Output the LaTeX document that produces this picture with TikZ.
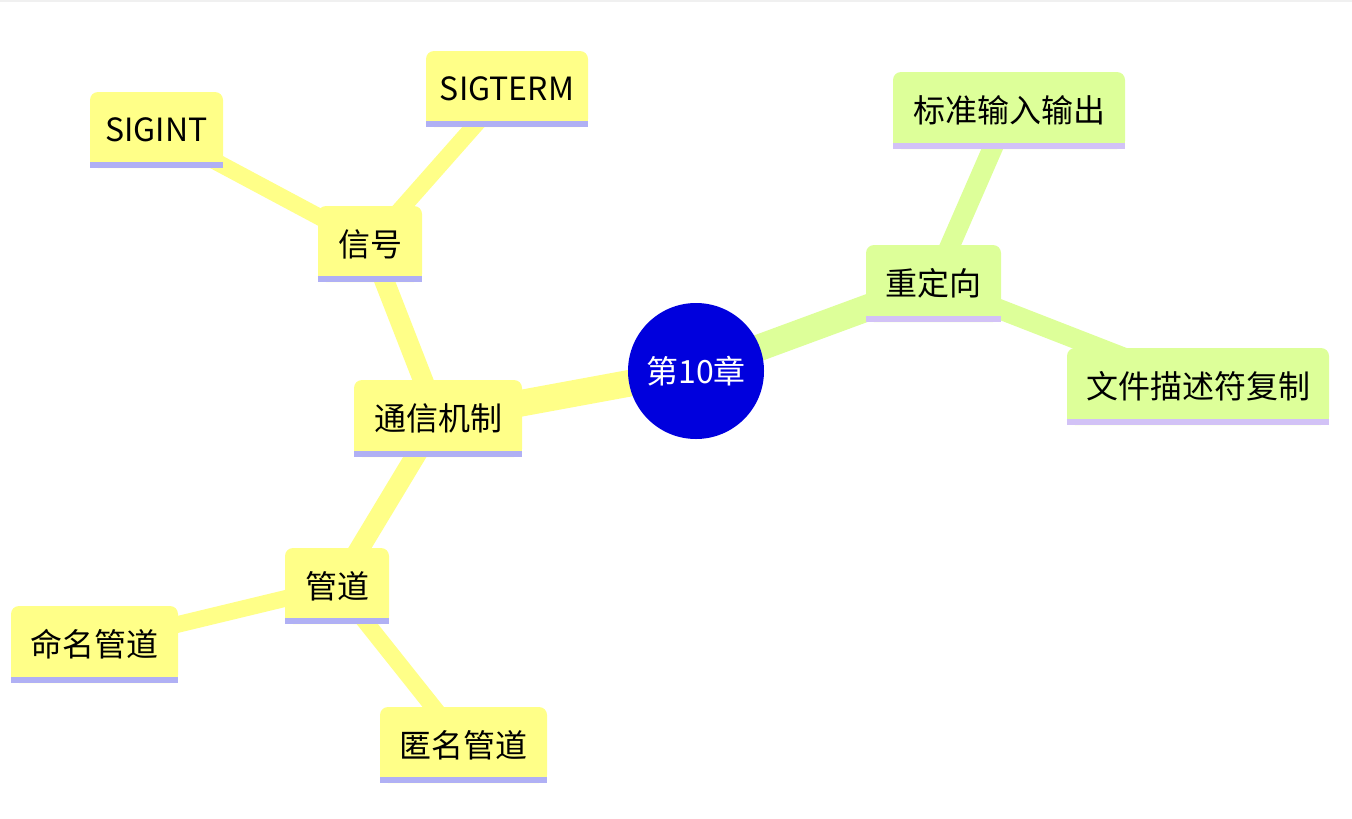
\documentclass[tikz,border=0pt]{standalone}
\usepackage{fontspec}
\setmainfont{Noto Sans CJK SC}
\pgfdeclarelayer{background}
\pgfsetlayers{background,main}
\definecolor{ylwfill}{HTML}{FFFF88}
\definecolor{ylwbar}{HTML}{B0B0F4}
\definecolor{grnfill}{HTML}{DDFF99}
\definecolor{grnbar}{HTML}{D2C2F6}
\definecolor{corefill}{HTML}{0000DD}
\definecolor{topline}{HTML}{F0F0F0}
\begin{document}
\begin{tikzpicture}[x=0.75pt,y=-0.75pt,
  topic/.style={fill=#1, rounded corners=6pt, inner sep=0pt, text=black,
    font=\fontsize{24}{28}\selectfont},
  dims/.style n args={2}{minimum width=0.75*#1pt, minimum height=0.75*#2pt},
  corenode/.style={circle, fill=corefill, text=white, minimum size=102pt, inner sep=0pt,
    font=\fontsize{24}{28}\selectfont},
  lvA/.style={line width=20pt},
  lvB/.style={line width=15pt},
  lvC/.style={line width=12.5pt}
]
\useasboundingbox (0,0) rectangle (1352,818);
\fill[topline] (0,0) rectangle (1352,2);

\node[corenode] (c) at (696,371) {第10章};

\node[topic=ylwfill, dims={168}{77}] (tx) at (438,418.5) {通信机制};
\node[topic=ylwfill, dims={104}{76}] (xh) at (370,244) {信号};
\node[topic=ylwfill, dims={133}{76}] (si) at (156.5,130) {SIGINT};
\node[topic=ylwfill, dims={162}{76}] (st) at (507,89) {SIGTERM};
\node[topic=ylwfill, dims={104}{76}] (gd) at (337,586) {管道};
\node[topic=ylwfill, dims={167}{77}] (mm) at (94.5,644.5) {命名管道};
\node[topic=ylwfill, dims={167}{76}] (nm) at (463.5,745) {匿名管道};

\node[topic=grnfill, dims={135}{77}] (cd) at (933.5,283.5) {重定向};
\node[topic=grnfill, dims={232}{77}] (bz) at (1009,110.5) {标准输入输出};
\node[topic=grnfill, dims={262}{77}] (wj) at (1198,386.5) {文件描述符复制};

% square bottom corners and underline bars
\foreach \n in {tx,xh,si,st,gd,mm,nm}{
  \fill[ylwfill] (\n.south west) rectangle ([yshift=9pt]\n.south east);
  \fill[ylwbar] (\n.south west) rectangle ([yshift=4.5pt]\n.south east);
}
\foreach \n in {cd,bz,wj}{
  \fill[grnfill] (\n.south west) rectangle ([yshift=9pt]\n.south east);
  \fill[grnbar] (\n.south west) rectangle ([yshift=4.5pt]\n.south east);
}

\begin{pgfonlayer}{background}
  \draw[lvA, ylwfill] (c.center) -- (tx.center);
  \draw[lvA, grnfill] (c.center) -- (cd.center);
  \draw[lvB, ylwfill] (tx.center) -- (xh.center);
  \draw[lvB, ylwfill] (tx.center) -- (gd.center);
  \draw[lvC, ylwfill] (xh.center) -- (si.center);
  \draw[lvC, ylwfill] (xh.center) -- (st.center);
  \draw[lvC, ylwfill] (gd.center) -- (mm.center);
  \draw[lvC, ylwfill] (gd.center) -- (nm.center);
  \draw[lvB, grnfill] (cd.center) -- (bz.center);
  \draw[lvB, grnfill] (cd.center) -- (wj.center);
\end{pgfonlayer}
\end{tikzpicture}
\end{document}
